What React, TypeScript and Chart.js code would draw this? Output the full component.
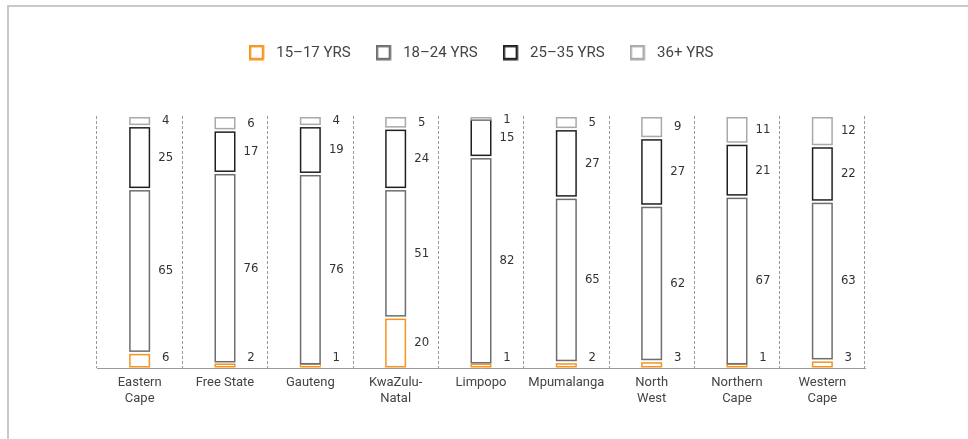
import React, { useEffect, useRef } from "react";
import { Chart, registerables } from "chart.js";

Chart.register(...registerables);

// ---- data ----
const categories: (string | string[])[] = [
  ["Eastern", "Cape"],
  "Free State",
  "Gauteng",
  ["KwaZulu-", "Natal"],
  "Limpopo",
  "Mpumalanga",
  ["North", "West"],
  ["Northern", "Cape"],
  ["Western", "Cape"],
];
const seriesLabels = ["15–17 YRS", "18–24 YRS", "25–35 YRS", "36+ YRS"];
const age15to17 = [6, 1.8, 1, 20, 1.4, 2.3, 2.7, 1, 3];
const age18to24 = [65, 75.6, 76, 51, 82.3, 65.3, 61.7, 67, 63];
const age25to35 = [25, 16.9, 19, 24, 15.4, 27.2, 26.8, 21, 22];
const age36plus = [4, 5.7, 4, 5, 0.9, 5.2, 8.8, 11, 12];
const seriesColors = ["#f7941d", "#6d6e71", "#231f20", "#a7a9ac"];

const seriesValues = [age15to17, age18to24, age25to35, age36plus];

const VALUE_FONT = "13px 'Liberation Sans Narrow', 'DejaVu Sans Condensed', 'Roboto', sans-serif";

const outlinePlugin = {
  id: "outlinedSegments",
  afterDatasetsDraw(chart: any) {
    const ctx = chart.ctx as CanvasRenderingContext2D;
    const area = chart.chartArea;
    chart.data.datasets.forEach((ds: any, di: number) => {
      const meta = chart.getDatasetMeta(di);
      if (meta.hidden) return;
      meta.data.forEach((el: any, j: number) => {
        const p = el.getProps(["x", "y", "base", "width"], true);
        const segTop = Math.min(p.y, p.base);
        const segBottom = Math.max(p.y, p.base);
        let top = segTop + 1;
        let bottom = di === 0 ? segBottom - 0.5 : segBottom - 1;
        if (bottom - top < 4) {
          if (di === 0) top = bottom - 4;
          else bottom = top + 3.5;
        }
        const lw = 1.5;
        ctx.save();
        ctx.strokeStyle = ds.borderColor;
        ctx.lineWidth = lw;
        ctx.strokeRect(p.x - p.width / 2 + lw / 2, top + lw / 2, p.width - lw, bottom - top - lw);
        const v = ds.data[j];
        const mid = (segTop + segBottom) / 2;
        const ly = Math.min(Math.max(mid, area.top + 4), area.bottom - 10);
        ctx.fillStyle = "#333";
        ctx.font = VALUE_FONT;
        ctx.textAlign = "center";
        ctx.textBaseline = "middle";
        ctx.fillText(String(Math.round(v)), p.x + 26, ly);
        ctx.restore();
      });
    });
  },
};

function makeSwatch(color: string) {
  const c = document.createElement("canvas");
  c.width = 20;
  c.height = 16;
  const g = c.getContext("2d")!;
  g.strokeStyle = color;
  g.lineWidth = 2.5;
  g.strokeRect(1.25, 1.25, 13, 13);
  return c;
}

export default function App() {
  const ref = useRef<HTMLCanvasElement>(null);

  useEffect(() => {
    const canvas = ref.current!;
    const swatches = seriesColors.map(makeSwatch);
    const chart = new Chart(canvas, {
      type: "bar",
      data: {
        labels: categories,
        datasets: seriesLabels.map((label, i) => ({
          label,
          data: seriesValues[i],
          backgroundColor: "rgba(0,0,0,0)",
          borderColor: seriesColors[i],
          borderWidth: 0,
          barThickness: 21,
        })),
      },
      options: {
        responsive: false,
        animation: false,
        devicePixelRatio: 1,
        layout: { padding: { left: 97, right: 103, top: 20.3, bottom: 25.8 } },
        scales: {
          x: {
            stacked: true,
            offset: true,
            grid: {
              display: true,
              color: "#9a9a9a",
              lineWidth: 1,
              offset: true,
              drawTicks: false,
              drawOnChartArea: true,
            },
            border: { display: true, color: "#9a9a9a", width: 1, dash: [3, 2] },
            ticks: {
              color: "#444",
              font: { family: "Roboto", size: 13, lineHeight: 1.2 },
              padding: 7,
              maxRotation: 0,
              autoSkip: false,
            },
          },
          y: { stacked: true, display: false, min: 0, max: 100 },
        },
        plugins: {
          legend: {
            position: "top",
            labels: {
              usePointStyle: true,
              pointStyleWidth: 20,
              boxHeight: 15,
              padding: 25,
              color: "#444",
              font: { family: "Roboto", size: 15 },
              generateLabels: (ch: any) =>
                ch.data.datasets.map((ds: any, i: number) => ({
                  text: ds.label,
                  pointStyle: swatches[i],
                  fillStyle: "rgba(0,0,0,0)",
                  strokeStyle: ds.borderColor,
                  lineWidth: 0,
                  hidden: false,
                  datasetIndex: i,
                  fontColor: "#444",
                })),
            },
          },
          title: {
            display: true,
            text: "",
            weight: 500,
            padding: { top: 0, bottom: 31.3 },
            font: { size: 12, lineHeight: 1.2 },
          },
          tooltip: { enabled: false },
        },
      } as any,
      plugins: [outlinePlugin],
    });
    return () => chart.destroy();
  }, []);

  return (
    <div style={{ position: "absolute", left: 0, top: 0, width: 968, height: 439, background: "#fff" }}>
      <div
        style={{
          position: "absolute",
          left: 7,
          top: 5,
          width: 961,
          height: 434,
          boxSizing: "border-box",
          borderTop: "2px solid #c8c8c8",
          borderLeft: "2px solid #c8c8c8",
        }}
      />
      <canvas
        ref={ref}
        width={968}
        height={439}
        style={{ position: "absolute", left: 0, top: 0, width: 968, height: 439 }}
      />
    </div>
  );
}
